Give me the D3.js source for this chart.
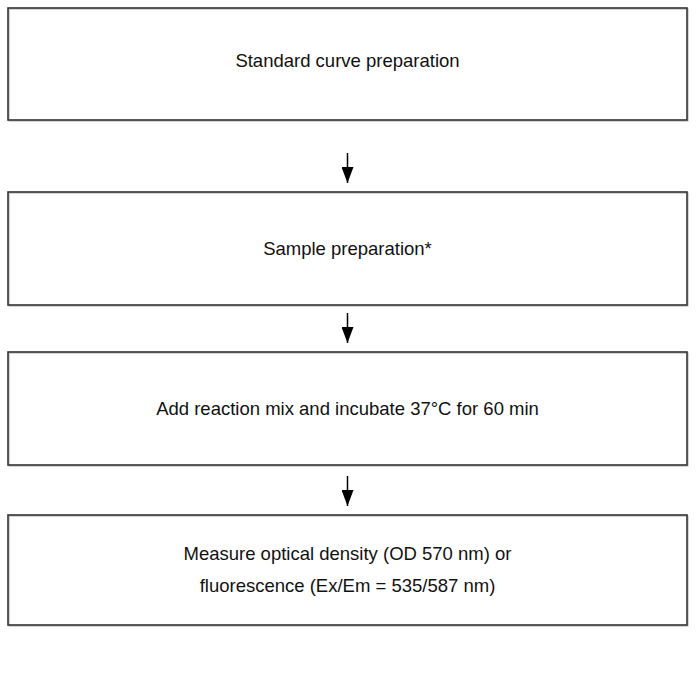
<!DOCTYPE html>
<html>
<head>
<meta charset="utf-8">
<script src="https://cdn.jsdelivr.net/npm/d3@7"></script>
<style>
  body { margin: 0; background: #fff; }
  text { font-family: "Liberation Sans", Arial, sans-serif; }
</style>
</head>
<body>
<div id="my_dataviz"></div>
<script>
// step labels, one array entry per line of text
var steps = [
  ["Standard curve preparation"],
  ["Sample preparation*"],
  ["Add reaction mix and incubate 37\u00B0C for 60 min"],
  ["Measure optical density (OD 570 nm) or", "fluorescence (Ex/Em = 535/587 nm)"]
];

// layout of the boxes (top, bottom) in pixels
var width = 696, height = 680;
var boxTop = [8, 192, 352, 515],
    boxBottom = [120, 305, 465, 625];

var svg = d3.select("#my_dataviz")
  .append("svg")
    .attr("width", width)
    .attr("height", height);

var defs = svg.append("defs");
defs.append("marker")
    .attr("id", "head")
    .attr("viewBox", "0 0 16 12")
    .attr("refX", 16).attr("refY", 6)
    .attr("markerWidth", 16).attr("markerHeight", 12)
    .attr("markerUnits", "userSpaceOnUse")
    .attr("orient", "auto")
  .append("path")
    .attr("d", "M0,0 L16,6 L0,12 Z")
    .attr("fill", "#000");

var x = d3.scaleLinear().domain([0, 1]).range([8, 687]);

var g = svg.selectAll("g.step")
  .data(steps)
  .enter().append("g")
    .attr("class", "step");

// box shadow line, then box
g.append("rect")
    .attr("x", x(0) + 1)
    .attr("y", function(d, i) { return boxTop[i] + 1; })
    .attr("width", x(1) - x(0))
    .attr("height", function(d, i) { return boxBottom[i] - boxTop[i]; })
    .attr("fill", "none")
    .attr("stroke", "#aaa")
    .attr("stroke-width", 1);

g.append("rect")
    .attr("x", x(0))
    .attr("y", function(d, i) { return boxTop[i]; })
    .attr("width", x(1) - x(0))
    .attr("height", function(d, i) { return boxBottom[i] - boxTop[i]; })
    .attr("fill", "none")
    .attr("stroke", "#333")
    .attr("stroke-width", 1.6);

var lineGap = 32;
g.each(function(d, i) {
  var cy = (boxTop[i] + boxBottom[i]) / 2 - (i === 0 ? 3 : 0);
  var y0 = cy - (d.length - 1) * lineGap / 2;
  d3.select(this).selectAll("text")
    .data(d)
    .enter().append("text")
      .attr("x", x(0.5))
      .attr("y", function(t, j) { return y0 + j * lineGap; })
      .attr("dy", "0.35em")
      .attr("text-anchor", "middle")
      .attr("font-size", 18.5)
      .attr("fill", "#111")
      .text(function(t) { return t; });
});

// arrows between boxes, ending just above the next box
var arrows = d3.range(steps.length - 1);
svg.selectAll("line.arrow")
  .data(arrows)
  .enter().append("line")
    .attr("class", "arrow")
    .attr("x1", x(0.5)).attr("x2", x(0.5))
    .attr("y1", function(i) { return boxTop[i + 1] - 39; })
    .attr("y2", function(i) { return boxTop[i + 1] - 9; })
    .attr("stroke", "#000")
    .attr("stroke-width", 1.5)
    .attr("marker-end", "url(#head)");
</script>
</body>
</html>
